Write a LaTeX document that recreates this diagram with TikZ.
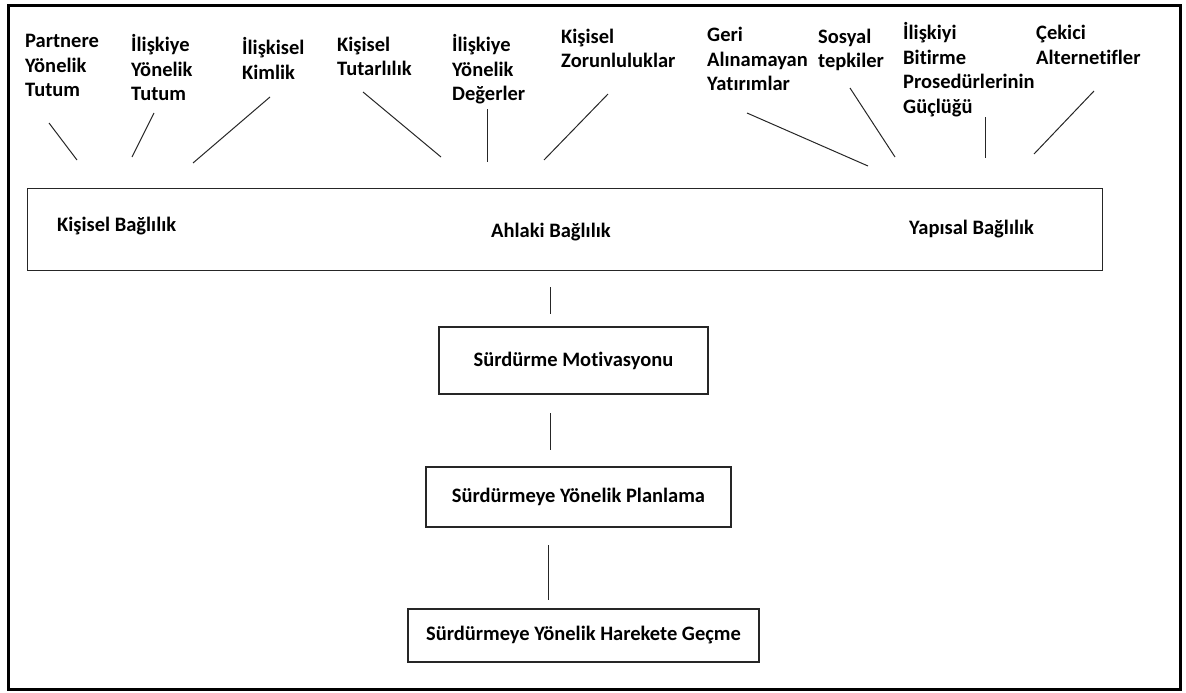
\documentclass[tikz,border=0pt]{standalone}
\usepackage{fontspec}
\setmainfont{Carlito}[Ligatures=NoCommon]
\begin{document}
\begin{tikzpicture}[x=1pt,y=-1pt,
  lbl/.style={inner sep=0pt, align=left, anchor=north west, font=\fontsize{20.5}{24.8}\selectfont\bfseries},
  blbl/.style={inner sep=0pt, anchor=base west, font=\fontsize{20.5}{24.8}\selectfont\bfseries},
  stagebox/.style={draw=black!85, line width=1.3pt, inner sep=0pt, font=\fontsize{20.5}{24.8}\selectfont\bfseries},
  conn/.style={draw=black!85, line width=1pt}]
\useasboundingbox (0,0) rectangle (1186,693);
\draw[line width=3pt] (8,6) rectangle (1180,689);

% top labels
\node[lbl] (t1) at (25,{47-17.36}) {\strut Partnere\\Yönelik\\Tutum};
\node[lbl] (t2) at (131,{51-17.36}) {\strut İlişkiye\\Yönelik\\Tutum};
\node[lbl] (t3) at (242,{54-17.36}) {\strut İlişkisel\\Kimlik};
\node[lbl] (t4) at (337,{51-17.36}) {\strut Kişisel\\Tutarlılık};
\node[lbl] (t5) at (452,{51-17.36}) {\strut İlişkiye\\Yönelik\\Değerler};
\node[lbl] (t6) at (561,{43-17.36}) {\strut Kişisel\\Zorunluluklar};
\node[lbl] (t7) at (707,{41-17.36}) {\strut Geri\\Alınamayan\\Yatırımlar};
\node[lbl] (t8) at (818,{43-17.36}) {\strut Sosyal\\tepkiler};
\node[lbl] (t9) at (903,{39-17.36}) {\strut İlişkiyi\\Bitirme\\Prosedürlerinin\\Güçlüğü};
\node[lbl] (t10) at (1036,{39-17.36}) {\strut Çekici\\Alternetifler};

% big box
\node[draw=black!85, line width=1.3pt, minimum width=1075pt, minimum height=82pt, anchor=north west, inner sep=0pt] (big) at (27,188) {};
\node[blbl] (b1) at (57,231) {Kişisel Bağlılık};
\node[blbl] (b2) at (491,237) {Ahlaki Bağlılık};
\node[blbl] (b3) at (909,234) {Yapısal Bağlılık};

% connector end points
\coordinate (c1a) at (49,123);  \coordinate (c1b) at (77,160);
\coordinate (c2a) at (154,113); \coordinate (c2b) at (132,157);
\coordinate (c3a) at (270,97);  \coordinate (c3b) at (193,163);
\coordinate (c4a) at (363,92);  \coordinate (c4b) at (441,157);
\coordinate (c5a) at (487,109); \coordinate (c5b) at (487,162);
\coordinate (c6a) at (608,94);  \coordinate (c6b) at (544,160);
\coordinate (c7a) at (747,113); \coordinate (c7b) at (868,166);
\coordinate (c8a) at (850,88);  \coordinate (c8b) at (895,157);
\coordinate (c9a) at (985,117); \coordinate (c9b) at (985,158);
\coordinate (c10a) at (1094,91); \coordinate (c10b) at (1034,154);
\foreach \i in {1,...,10} {\draw[conn] (c\i a) -- (c\i b);}

% stage boxes
\node[stagebox, minimum width=269pt, minimum height=67pt] (s1) at (573.5,360.5) {Sürdürme Motivasyonu};
\node[stagebox, minimum width=305pt, minimum height=60pt] (s2) at (578.5,497) {Sürdürmeye Yönelik Planlama};
\node[stagebox, minimum width=351pt, minimum height=53pt] (s3) at (583.5,635.5) {Sürdürmeye Yönelik Harekete Geçme};

\coordinate (v1a) at (550,287); \coordinate (v1b) at (550,314);
\coordinate (v2a) at (550,413); \coordinate (v2b) at (550,450);
\coordinate (v3a) at (548,545); \coordinate (v3b) at (548,600);
\draw[conn] (v1a) -- (v1b);
\draw[conn] (v2a) -- (v2b);
\draw[conn] (v3a) -- (v3b);
\end{tikzpicture}
\end{document}
